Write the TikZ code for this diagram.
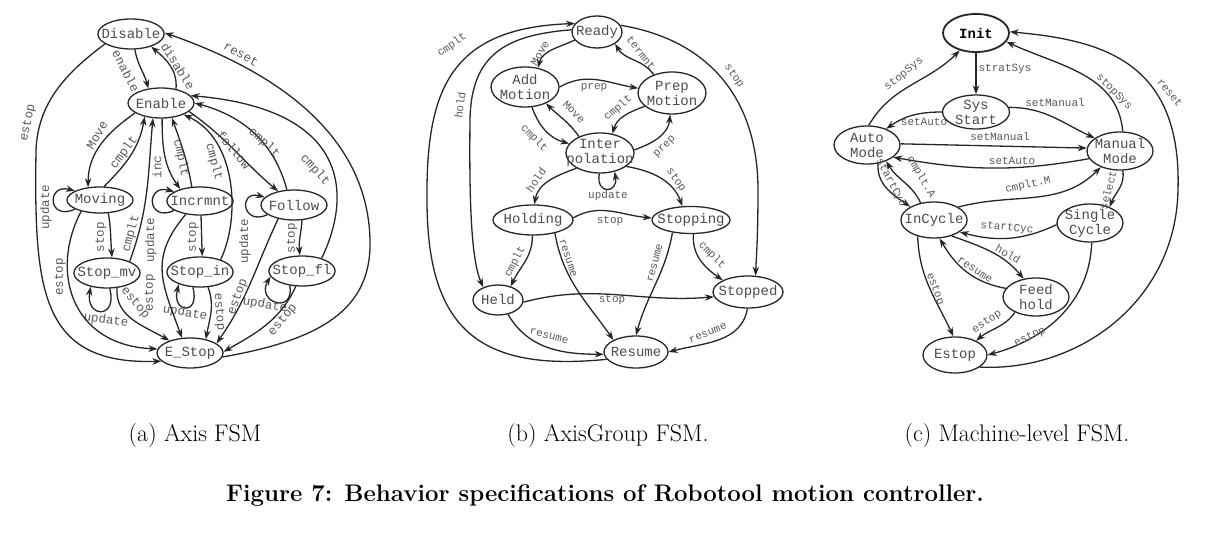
\documentclass[tikz,border=0pt]{standalone}
\usepackage{fontspec}
\setmonofont{Liberation Mono}
\usetikzlibrary{shapes.geometric,arrows.meta}

\begin{document}
\begin{tikzpicture}[x=1pt,y=1pt,
        state/.style={ellipse,draw=black!85,line width=1.3pt,inner xsep=-6pt,inner ysep=-4pt,
        minimum width=66pt,minimum height=30pt,align=center,
        font=\fontsize{14}{15}\selectfont\ttfamily,text=black!70},
        tr/.style={draw=black!85,line width=1.3pt,-{Stealth[length=9pt,width=6.5pt]}},
        lbla/.style={font=\fontsize{12.5}{13}\selectfont\ttfamily,text=black!65,inner sep=0pt},
        lbl/.style={font=\fontsize{11}{12}\selectfont\ttfamily,text=black!65,inner sep=0pt},
        capt/.style={font=\fontsize{24}{28}\selectfont}]

        \useasboundingbox (0,0) rectangle (1218,-534);

        % Axis FSM
        \node[state] (dis) at (131,-34) {Disable};
        \node[state] (ena) at (161,-103) {Enable};
        \node[state,minimum height=26pt] (mov) at (100,-200) {Moving};
        \node[state,minimum height=28pt] (inc) at (200,-201) {Incrmnt};
        \node[state] (fol) at (294,-205) {Follow};
        \node[state] (smv) at (107,-273) {Stop\_mv};
        \node[state] (sin) at (200,-272) {Stop\_in};
        \node[state] (sfl) at (302,-271) {Stop\_fl};
        \node[state] (est) at (190,-353) {E\_Stop};

        \draw[tr] (dis.-76) to[out=-80,in=105] (ena.131) node[lbla,rotate=-63] at (126,-71) {enable};
        \draw[tr] (ena.43) to[out=85,in=-40] (dis.-32) node[lbla,rotate=-58] at (178,-66) {disable};
        \draw[tr] (dis.201) .. controls (70,-70) and (38,-100) .. (36,-150)
            .. controls (34,-290) and (40,-365) .. (est.196) node[lbla,rotate=78] at (28,-123) {estop};
        \draw[tr] (est.-7) .. controls (320,-340) and (372,-310) .. (370,-240)
            .. controls (368,-150) and (300,-80) .. (dis.2) node[lbla,rotate=-29] at (241,-54) {reset};
        \draw[tr] (ena.201) to[out=215,in=90] (mov.133) node[lbla,rotate=60] at (97,-135) {Move};
        \draw[tr] (mov.73) to[out=45,in=-100] (ena.220) node[lbla,rotate=53] at (124,-153) {cmplt};
        \draw[tr] (smv.27) to[out=70,in=-95] (ena.242) node[lbla,rotate=75] at (131,-234) {cmplt};
        \draw[tr] (ena.-86) to[out=-90,in=125] (inc.149) node[lbla,rotate=90] at (157,-167) {inc};
        \draw[tr] (inc.120) to[out=100,in=-70] (ena.-54) node[lbla,rotate=-78] at (181,-158) {cmplt};
        \draw[tr] (sin.31) .. controls (240,-220) and (238,-140) .. (ena.-27) node[lbla,rotate=-75] at (214,-162) {cmplt};
        \draw[tr] (ena.-17) to[out=-35,in=140] (fol.139) node[lbla,rotate=-50] at (234,-150) {follow};
        \draw[tr] (fol.115) to[out=105,in=-15] (ena.0) node[lbla,rotate=-43] at (264,-143) {cmplt};
        \draw[tr] (sfl.33) .. controls (350,-200) and (355,-110) .. (ena.14) node[lbla,rotate=-48] at (315,-170) {cmplt};

        \draw[tr] (mov.-58) to[out=-80,in=95] (smv.72) node[lbla,rotate=90] at (101,-237) {stop};
        \draw[tr] (inc.-86) -- (sin.82) node[lbla,rotate=90] at (193,-237) {stop};
        \draw[tr] (fol.-62) to[out=-95,in=95] (sfl.98) node[lbla,rotate=90] at (292,-238) {stop};

        % self loops
        \draw[tr] (mov.200) .. controls +(205:30) and +(165:30) .. (mov.160) node[lbla,rotate=90] at (46,-207) {update};
        \draw[tr] (inc.200) .. controls +(205:30) and +(165:30) .. (inc.160) node[lbla,rotate=90] at (151,-240) {update};
        \draw[tr] (fol.200) .. controls +(205:28) and +(165:28) .. (fol.165) node[lbla,rotate=90] at (245,-241) {update};
        \draw[tr] (smv.-80) .. controls +(-75:32) and +(-100:32) .. (smv.-140) node[lbla,rotate=-8] at (106,-320) {update};
        \draw[tr] (sin.-115) .. controls +(-75:30) and +(-105:30) .. (sin.-150) node[lbla,rotate=-10] at (185,-313) {update};
        \draw[tr] (sfl.-130) .. controls +(-80:30) and +(-120:30) .. (sfl.190) node[lbla,rotate=-10] at (265,-305) {update};

        \draw[tr] (mov.211) .. controls (50,-270) and (70,-345) .. (est.173) node[lbla,rotate=90] at (60,-277) {estop};
        \draw[tr] (smv.-56) to[out=-95,in=150] (est.149) node[lbla,rotate=-50] at (135,-303) {estop};
        \draw[tr] (inc.223) to[out=230,in=110,looseness=1.2] (est.118) node[lbla,rotate=90] at (150,-293) {estop};
        \draw[tr] (sin.-62) to[out=-70,in=80] (est.41) node[lbla,rotate=-85] at (219,-312) {estop};
        \draw[tr] (fol.221) to[out=-115,in=55] (est.20) node[lbla,rotate=70] at (238,-297) {estop};
        \draw[tr] (sfl.248) to[out=-115,in=30] (est.2) node[lbla,rotate=50] at (283,-320) {estop};

        % AxisGroup FSM
        \node[state,minimum width=50pt,minimum height=32pt] (rdy) at (597,-32) {Ready};
        \node[state,minimum width=68pt,minimum height=40pt] (add) at (525,-87) {Add\\Motion};
        \node[state,minimum width=68pt,minimum height=42pt] (prp) at (672,-93) {Prep\\Motion};
        \node[state,minimum width=68pt,minimum height=40pt,inner xsep=-10pt] (itp) at (600,-153) {Inter\\polation};
        \node[state,minimum width=80pt] (hld) at (533,-220) {Holding};
        \node[state,minimum width=78pt,minimum height=27pt] (stp) at (691,-220) {Stopping};
        \node[state,minimum width=50pt] (held) at (498,-300) {Held};
        \node[state,minimum width=70pt,minimum height=32pt] (spd) at (748,-292) {Stopped};
        \node[state,minimum width=64pt,minimum height=32pt] (res) at (636,-352) {Resume};

        \draw[tr] (res.194) .. controls (480,-372) and (427,-330) .. (427,-200)
            .. controls (426,-90) and (450,-28) .. (rdy.159) node[lbl,rotate=35] at (452,-45) {cmplt};
        \draw[tr] (rdy.175) .. controls (505,-35) and (471,-55) .. (470,-120)
            .. controls (469,-210) and (472,-262) .. (held.139) node[lbl,rotate=82] at (460,-105) {hold};
        \draw[tr] (rdy.16) .. controls (710,-40) and (758,-100) .. (758,-190)
            .. controls (758,-240) and (756,-262) .. (spd.65) node[lbl,rotate=-55] at (734,-76) {stop};
        \draw[tr] (rdy.200) to[out=205,in=75] (add.56) node[lbl,rotate=60] at (540,-53) {Move};
        \draw[tr] (prp.135) to[out=125,in=-60] (rdy.-33) node[lbl,rotate=-52] at (641,-53) {termnt};
        \draw[tr] (add.0) to[out=30,in=170] (prp.172) node[lbl] at (594,-88) {prep};
        \draw[tr] (itp.142) to[out=125,in=-45] (add.-38) node[lbl,rotate=-45] at (574,-112) {Move};
        \draw[tr] (add.-71) to[out=-70,in=165] (itp.163) node[lbl,rotate=-45] at (534,-138) {cmplt};
        \draw[tr] (prp.206) to[out=200,in=75] (itp.57) node[lbl,rotate=40] at (618,-108) {cmplt};
        \draw[tr] (itp.5) to[out=20,in=-95] (prp.-95) node[lbl,rotate=45] at (665,-147) {prep};
        \draw[tr] (itp.-92) .. controls +(-100:22) and +(-80:22) .. (itp.-52) node[lbl] at (608,-196) {update};
        \draw[tr] (itp.213) to[out=200,in=80] (hld.85) node[lbl,rotate=55] at (536,-180) {hold};
        \draw[tr] (itp.-27) to[out=-10,in=110] (stp.122) node[lbl,rotate=-55] at (676,-180) {stop};
        \draw[tr] (hld.3) to[out=30,in=175] (stp.177) node[lbl] at (610,-221) {stop};
        \draw[tr] (hld.-92) to[out=-90,in=65] (held.47) node[lbl,rotate=62] at (515,-262) {cmplt};
        \draw[tr] (hld.-31) to[out=-80,in=125] (res.152) node[lbl,rotate=-72] at (568,-258) {resume};
        \draw[tr] (stp.214) to[out=-100,in=75] (res.90) node[lbl,rotate=75] at (655,-263) {resume};
        \draw[tr] (stp.-80) to[out=-95,in=145] (spd.155) node[lbl,rotate=-45] at (712,-255) {cmplt};
        \draw[tr] (held.-5) to[out=15,in=185] (spd.188) node[lbl] at (612,-300) {stop};
        \draw[tr] (held.-55) to[out=-60,in=180] (res.184) node[lbl,rotate=-15] at (549,-336) {resume};
        \draw[tr] (spd.-92) to[out=-100,in=15] (res.0) node[lbl,rotate=22] at (708,-333) {resume};

        % Machine-level FSM
        \node[state,minimum height=38pt,line width=1.8pt,text=black,font=\fontsize{14}{15}\selectfont\ttfamily\bfseries] (ini) at (976,-33) {Init};
        \node[state,minimum width=67pt,minimum height=34pt] (sys) at (976,-112) {Sys\\Start};
        \node[state,minimum height=38pt] (aut) at (867,-145) {Auto\\Mode};
        \node[state,minimum height=38pt] (man) at (1120,-151) {Manual\\Mode};
        \node[state,minimum height=36pt] (icy) at (934,-220) {InCycle};
        \node[state,minimum height=38pt] (sgl) at (1090,-223) {Single\\Cycle};
        \node[state,minimum height=38pt] (fdh) at (1036,-297) {Feed\\hold};
        \node[state,minimum width=64pt,minimum height=36pt] (esp) at (955,-355) {Estop};

        \draw[tr] (ini) -- (sys) node[lbl] at (1005,-69) {stratSys};
        \draw[tr] (aut.85) to[out=60,in=225] (ini.227) node[lbl,rotate=38] at (904,-74) {stopSys};
        \draw[tr] (man.82) to[out=95,in=-25] (ini.-16) node[lbl,rotate=-45] at (1114,-92) {stopSys};
        \draw[tr] (esp.-26) .. controls (1080,-372) and (1176,-300) .. (1178,-190)
            .. controls (1182,-60) and (1100,-40) .. (ini.2) node[lbl,rotate=-50] at (1170,-93) {reset};
        \draw[tr] (sys.180) to[out=180,in=35] (aut.40) node[lbl] at (924,-122) {setAuto};
        \draw[tr] (sys.8) to[out=0,in=155] (man.153) node[lbl] at (1055,-103) {setManual};
        \draw[tr] (aut.2) -- (man.175) node[lbl] at (1000,-137) {setManual};
        \draw[tr] (man.194) to[out=190,in=-10] (aut.-25) node[lbl] at (1012,-161) {setAuto};
        \draw[tr] (aut.-59) to[out=-95,in=145] (icy.151) node[lbl,rotate=-62] at (891,-183) {startCyc};
        \draw[tr] (icy.128) to[out=115,in=-60] (aut.-40) node[lbl,rotate=-60] at (921,-177) {cmplt.A};
        \draw[tr] (icy.28) to[out=15,in=-135] (man.220) node[lbl,rotate=12] at (1028,-185) {cmplt.M};
        \draw[tr] (man.-82) to[out=-80,in=70] (sgl.39) node[lbl,rotate=75] at (1108,-190) {select};
        \draw[tr] (sgl.183) to[out=205,in=-15] (icy.-25) node[lbl,rotate=-5] at (1007,-228) {startCyc};
        \draw[tr] (icy.-42) to[out=-20,in=130] (fdh.124) node[lbl,rotate=-30] at (1008,-254) {hold};
        \draw[tr] (fdh.164) to[out=170,in=-60] (icy.-73) node[lbl,rotate=-33] at (975,-270) {resume};
        \draw[tr] (icy.225) to[out=-88,in=115] (esp.95) node[lbl,rotate=-70] at (935,-289) {estop};
        \draw[tr] (fdh.216) to[out=-125,in=40] (esp.34) node[lbl,rotate=35] at (987,-322) {estop};
        \draw[tr] (sgl.-85) to[out=-92,in=15] (esp.0) node[lbl,rotate=25] at (1030,-337) {estop};

        % captions
        \node[capt] (capa) at (195,-436) {(a) Axis FSM};
        \node[capt] (capb) at (608,-436) {(b) AxisGroup FSM.};
        \node[capt] (capc) at (1017,-436) {(c) Machine-level FSM.};
        \node[capt,font=\fontsize{24}{28}\selectfont\bfseries] (fig) at (605,-496)
            {Figure 7: Behavior specifications of Robotool motion controller.};
\end{tikzpicture}
\end{document}
